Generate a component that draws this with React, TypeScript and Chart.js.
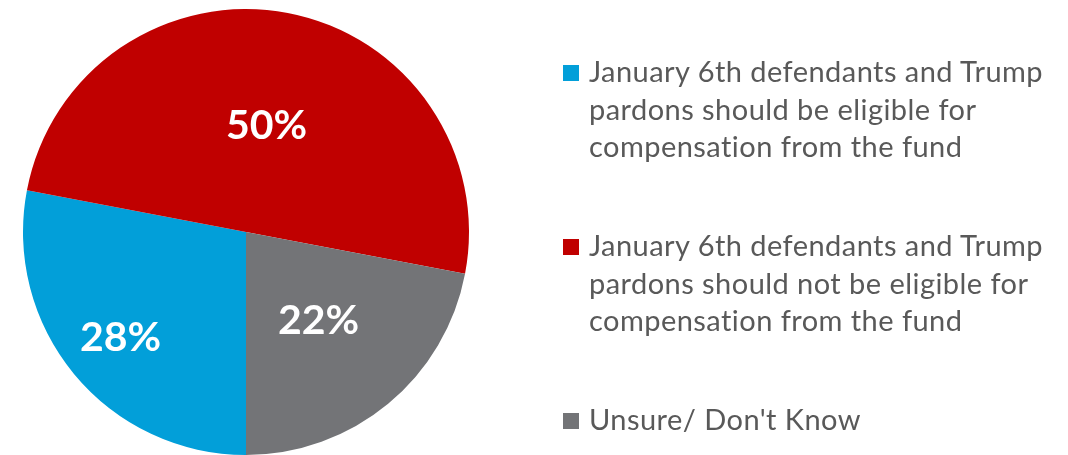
import React, { useEffect, useRef } from "react";
import { Chart, registerables } from "chart.js";

Chart.register(...registerables);

// ---- data ----
const categories: string[][] = [
  ["January 6th defendants and Trump", "pardons should be eligible for", "compensation from the fund"],
  ["January 6th defendants and Trump", "pardons should not be eligible for", "compensation from the fund"],
  ["Unsure/ Don't Know"],
];
const values: number[] = [28, 50, 22];
const colors: string[] = ["#029FD9", "#C00000", "#737477"];
const labelRadius: number[] = [0.73, 0.49, 0.51];

const LABEL_FONT = 41;

const sliceLabels = {
  id: "sliceLabels",
  afterDatasetsDraw(chart: any) {
    const ctx = chart.ctx;
    const meta = chart.getDatasetMeta(0);
    ctx.save();
    ctx.fillStyle = "#ffffff";
    ctx.font = `bold ${LABEL_FONT}px Lato, "Open Sans", sans-serif`;
    ctx.textAlign = "center";
    ctx.textBaseline = "alphabetic";
    meta.data.forEach((arc: any, i: number) => {
      const { x, y, startAngle, endAngle, outerRadius } = arc.getProps(
        ["x", "y", "startAngle", "endAngle", "outerRadius"],
        true
      );
      const mid = (startAngle + endAngle) / 2;
      const r = outerRadius * labelRadius[i];
      const px = x + Math.cos(mid) * r;
      const py = y + Math.sin(mid) * r;
      ctx.fillText(`${values[i]}%`, px, py + LABEL_FONT * 0.36);
    });
    ctx.restore();
  },
};

export default function App() {
  const canvasRef = useRef<HTMLCanvasElement | null>(null);

  useEffect(() => {
    if (!canvasRef.current) return;
    const chart = new Chart(canvasRef.current, {
      type: "pie",
      data: {
        labels: categories.map((l) => l.join(" ")),
        datasets: [
          {
            data: values,
            backgroundColor: colors,
            borderWidth: 0,
          },
        ],
      },
      options: {
        animation: false,
        responsive: false,
        rotation: 180,
        layout: { padding: { left: 23, right: 599, top: 9, bottom: 0 } },
        plugins: {
          legend: { display: false },
          tooltip: { enabled: false },
        },
      },
      plugins: [sliceLabels],
    });
    return () => chart.destroy();
  }, []);

  const baselines = [82, 256, 430];
  const lineHeight = 37.5;
  const fontSize = 29;
  const baseOffset = 30;

  return (
    <div
      style={{
        position: "fixed",
        left: 0,
        top: 0,
        width: 1068,
        height: 455,
        background: "#ffffff",
        overflow: "hidden",
      }}
    >
      <canvas ref={canvasRef} width={1068} height={455} style={{ position: "absolute", left: 0, top: 0 }} />
      {categories.map((lines, i) => {
        const top = baselines[i] - baseOffset;
        return (
          <div
            key={i}
            style={{
              position: "absolute",
              left: 563,
              top,
              fontFamily: "Lato, 'Open Sans', sans-serif",
              fontSize,
              letterSpacing: "0.45px",
              lineHeight: `${lineHeight}px`,
              color: "#595959",
              whiteSpace: "nowrap",
            }}
          >
            <div
              style={{
                position: "absolute",
                left: 0,
                top: baseOffset - 17,
                width: 16,
                height: 16,
                background: colors[i],
              }}
            />
            <div style={{ marginLeft: 26 }}>
              {lines.map((t, j) => (
                <div key={j}>{t}</div>
              ))}
            </div>
          </div>
        );
      })}
    </div>
  );
}
